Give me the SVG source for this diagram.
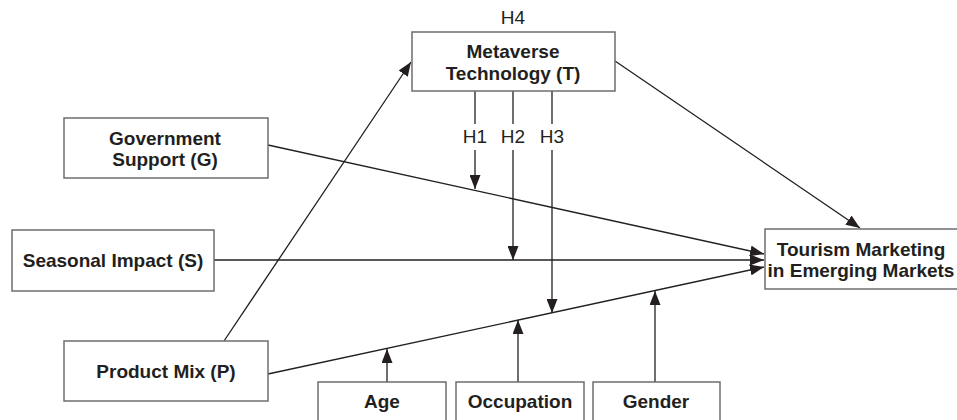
<svg xmlns="http://www.w3.org/2000/svg" width="957" height="420" viewBox="0 0 957 420">
<style>
.box{fill:#fff;stroke:#6d6e71;stroke-width:1.5}
.lbl{font-family:"Liberation Sans",Arial,sans-serif;font-weight:bold;font-size:19px;fill:#231f20;text-anchor:middle}
.h{font-family:"Liberation Sans",Arial,sans-serif;font-size:19px;fill:#231f20;text-anchor:middle}
.ln{stroke:#231f20;stroke-width:1.3;fill:none}
</style>
<defs>
<marker id="ah" markerUnits="userSpaceOnUse" markerWidth="15" markerHeight="11" refX="14" refY="5.5" orient="auto">
<path d="M0,0 L14,5.5 L0,11 z" fill="#231f20"/>
</marker>
</defs>
<g id="connectors">
<line class="ln" x1="224" y1="341" x2="411" y2="62" marker-end="url(#ah)"/>
<line class="ln" x1="615" y1="61" x2="860" y2="228" marker-end="url(#ah)"/>
<line class="ln" x1="268" y1="145" x2="764" y2="254" marker-end="url(#ah)"/>
<line class="ln" x1="214" y1="260" x2="764" y2="260" marker-end="url(#ah)"/>
<line class="ln" x1="268" y1="374" x2="764" y2="267" marker-end="url(#ah)"/>
<line class="ln" x1="475" y1="91" x2="475" y2="124"/>
<line class="ln" x1="475" y1="150" x2="475" y2="189" marker-end="url(#ah)"/>
<line class="ln" x1="513" y1="91" x2="513" y2="124"/>
<line class="ln" x1="513" y1="150" x2="513" y2="260" marker-end="url(#ah)"/>
<line class="ln" x1="552" y1="91" x2="552" y2="124"/>
<line class="ln" x1="552" y1="150" x2="552" y2="313" marker-end="url(#ah)"/>
<line class="ln" x1="387" y1="382" x2="387" y2="349" marker-end="url(#ah)"/>
<line class="ln" x1="518" y1="382" x2="518" y2="320" marker-end="url(#ah)"/>
<line class="ln" x1="655" y1="382" x2="655" y2="291" marker-end="url(#ah)"/>
<text class="h" x="475" y="143">H1</text>
<text class="h" x="513" y="143">H2</text>
<text class="h" x="552" y="143">H3</text>
<text class="h" x="513" y="24">H4</text>
</g>
<g id="metaverse">
<rect class="box" x="412" y="32" width="203" height="59"/>
<text class="lbl" x="513" y="58">Metaverse</text>
<text class="lbl" x="513" y="80">Technology (T)</text>
</g>
<g id="government">
<rect class="box" x="64" y="118" width="204" height="60"/>
<text class="lbl" x="165" y="145">Government</text>
<text class="lbl" x="165" y="166">Support (G)</text>
</g>
<g id="seasonal">
<rect class="box" x="12" y="230" width="202" height="61"/>
<text class="lbl" x="113" y="267">Seasonal Impact (S)</text>
</g>
<g id="product">
<rect class="box" x="64" y="341" width="204" height="60"/>
<text class="lbl" x="166" y="378">Product Mix (P)</text>
</g>
<g id="tourism">
<rect class="box" x="765" y="229" width="210" height="60"/>
<text class="lbl" x="861" y="256">Tourism Marketing</text>
<text class="lbl" x="861" y="277">in Emerging Markets</text>
</g>
<g id="age">
<rect class="box" x="318" y="382" width="128" height="45"/>
<text class="lbl" x="382" y="408">Age</text>
</g>
<g id="occupation">
<rect class="box" x="456" y="382" width="128" height="45"/>
<text class="lbl" x="520" y="408">Occupation</text>
</g>
<g id="gender">
<rect class="box" x="593" y="382" width="127" height="45"/>
<text class="lbl" x="656" y="408">Gender</text>
</g>
</svg>
